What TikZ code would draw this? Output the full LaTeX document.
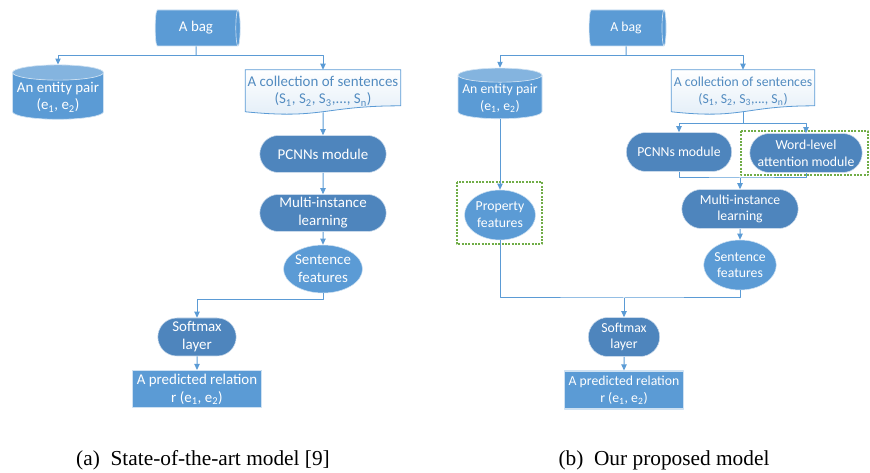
\documentclass[tikz,border=0pt]{standalone}
\usepackage{fontspec}
\setmainfont{Carlito}
\newfontfamily\capfont{Liberation Serif}
\usetikzlibrary{shapes.geometric,shapes.misc,arrows.meta,calc}
\definecolor{lblue}{HTML}{5B9BD5}
\definecolor{dblue}{HTML}{4E85BD}
\definecolor{dgreen}{HTML}{70AD47}
\pgfdeclarelayer{bg}
\pgfsetlayers{bg,main}
% document shape below a node: node, width, height (px)
\newcommand{\docshape}[3]{%
  \draw[doc] (#1.north west) -- (#1.north east) -- ++(0,0.802*#3)
    .. controls +(-0.5*#2,0) and +(0.5*#2,0.1735*#3) .. ($(#1.north west)+(0,0.934*#3)$) -- cycle;}

\begin{document}
\begin{tikzpicture}[x=0.75pt,y=-0.75pt,line join=round,
  >={Triangle[length=4.5pt,width=4pt]},
  font=\fontsize{11.2}{13.4}\selectfont,
  wh/.style 2 args={minimum width=#1*0.75pt,minimum height=#2*0.75pt},
  link/.style={draw=lblue,line width=0.75pt},
  stad/.style={rounded rectangle,fill=dblue,draw=white!70!dblue,line width=0.4pt,text=white,align=center,inner sep=1pt},
  oval/.style={ellipse,fill=lblue,draw=white!70!lblue,line width=0.4pt,text=white,align=center,inner sep=0pt},
  rect/.style={rectangle,fill=lblue,draw=white!70!lblue,line width=0.8pt,text=white,align=center,inner sep=1pt},
  % lying cylinder: width is across, height along the axis
  hcyl/.style={cylinder,aspect=0.28,fill=lblue,draw=white!70!lblue,line width=0.5pt,text=white,inner sep=1pt},
  vcyl/.style={cylinder,shape border rotate=90,aspect=0.18,cylinder uses custom fill,cylinder body fill=lblue,
    cylinder end fill=white!25!lblue,draw=white!70!lblue,line width=0.5pt,text=white,align=center,inner sep=1pt},
  doc/.style={draw=lblue,line width=0.6pt,top color=white,bottom color=lblue!18},
  coll/.style={text=lblue!90!black,align=center,inner sep=1pt},
  hl/.style={draw=dgreen,line width=0.8pt,dash pattern=on 1.5pt off 1pt},
  subcap/.style={font=\capfont\fontsize{16}{19}\selectfont,anchor=base}]
\useasboundingbox (0,0) rectangle (870,473);

% (a) state-of-the-art model
\node[hcyl,wh={36}{85}] (bagA) at (196,28) {A bag};
\node[vcyl,wh={91}{46}] (pairA) at (58,97) {An entity pair\\(e\textsubscript{1}, e\textsubscript{2})};
\node[coll,wh={155}{42}] (collA) at (323,91) {A collection of sentences\\(S\textsubscript{1}, S\textsubscript{2}, S\textsubscript{3},..., S\textsubscript{n})};
\node[stad,wh={129}{37}] (pcnnA) at (323,154) {PCNNs module};
\node[stad,wh={129}{37}] (milA) at (323,213) {Multi-instance\\learning};
\node[oval,wh={77}{48}] (sentA) at (323,269) {Sentence\\features};
\node[stad,wh={81}{38}] (softA) at (197,337) {Softmax\\layer};
\node[rect,wh={129}{37}] (predA) at (197,389) {A predicted relation\\r (e\textsubscript{1}, e\textsubscript{2})};

\coordinate (jA) at (196,56);
\coordinate (jB) at (197,300);
\draw[link] (bagA) -- (jA);
\draw[link,->] (jA) -| (pairA.north);
\draw[link,->] (jA) -| (collA.north);
\draw[link,->] (collA.south) -- (pcnnA);
\draw[link,->] (pcnnA) -- (milA);
\draw[link,->] (milA) -- (sentA);
\draw[link,->] (sentA.south) |- (jB) -- (softA.north);
\draw[link,->] (softA) -- (predA);

% (b) proposed model, drawn a little smaller
\begin{scope}[font=\fontsize{10.3}{12.6}\selectfont]
\node[hcyl,wh={36}{77}] (bagB) at (626,28) {A bag};
\node[vcyl,wh={84}{46}] (pairB) at (500,98) {An entity pair\\(e\textsubscript{1}, e\textsubscript{2})};
\node[coll,wh={143}{42}] (collB) at (743,91) {A collection of sentences\\(S\textsubscript{1}, S\textsubscript{2}, S\textsubscript{3},..., S\textsubscript{n})};
\node[stad,wh={108}{39}] (pcnnB) at (679,152) {PCNNs module};
\node[stad,wh={115}{39}] (wordB) at (806,153) {Word-level\\attention module};
\node[stad,wh={119}{39}] (milB) at (740,209) {Multi-instance\\learning};
\node[oval,wh={72}{50}] (sentB) at (740,265) {Sentence\\features};
\node[oval,wh={71}{50}] (propB) at (500,215) {Property\\features};
\node[stad,wh={74}{39}] (softB) at (624,337) {Softmax\\layer};
\node[rect,wh={119}{38}] (predB) at (624,390) {A predicted relation\\r (e\textsubscript{1}, e\textsubscript{2})};
\end{scope}
\draw[hl] (741,131) rectangle (868,175);
\draw[hl] (457,182) rectangle (542,244);

\coordinate (jC) at (626,56);
\coordinate (jD) at (743,124);
\coordinate (jE) at (740,178);
\coordinate (jF) at (624,298);
\draw[link] (bagB) -- (jC);
\draw[link,->] (jC) -| (pairB.north);
\draw[link,->] (jC) -| (collB.north);
\draw[link] (collB.south) -- (jD);
\draw[link,->] (jD) -| (pcnnB.north);
\draw[link,->] (jD) -| (wordB.north);
\draw[link] (pcnnB.south) |- (jE) -| (wordB.south);
\draw[link,->] (jE) -- (milB.north);
\draw[link,->] (milB) -- (sentB);
\draw[link,->] (pairB.south) -- (propB.north);
\draw[link] (propB.south) |- (jF) -| (sentB.south);
\draw[link,->] (jF) -- (softB.north);
\draw[link,->] (softB) -- (predB);

\begin{pgfonlayer}{bg}
\docshape{collA}{155}{45}
\docshape{collB}{143}{45}
\end{pgfonlayer}

\node[subcap] (capA) at (203,465) {(a)\hspace{0.5em}State-of-the-art model [9]};
\node[subcap] (capB) at (664,465) {(b)\hspace{0.5em}Our proposed model};
\end{tikzpicture}
\end{document}
